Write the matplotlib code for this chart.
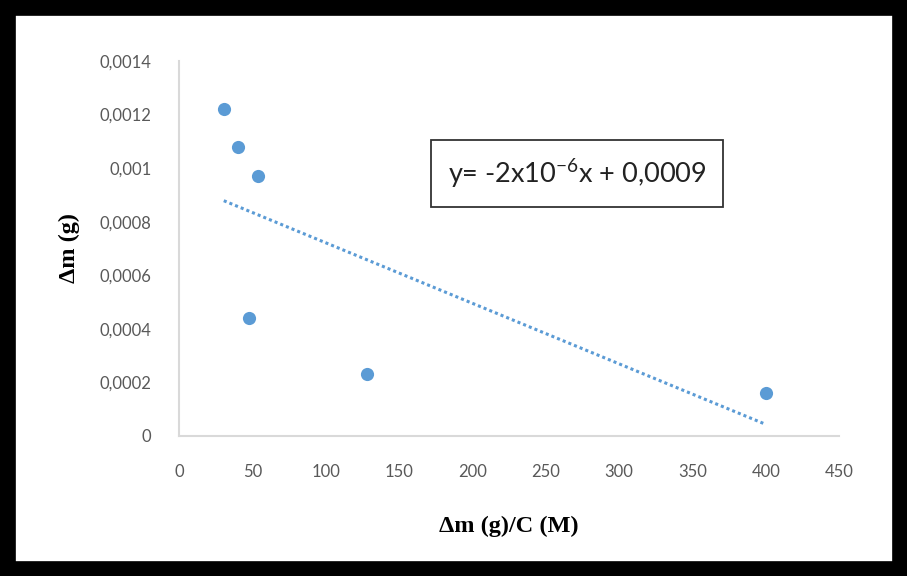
import numpy as np
import matplotlib
matplotlib.use("Agg")
import matplotlib.pyplot as plt
from matplotlib.patches import Rectangle

# data
ratio = [30.5, 40.5, 54, 48, 128, 400]           # dm (g)/C (M)
dmass = [0.00122, 0.00108, 0.00097, 0.00044, 0.00023, 0.00016]  # dm (g)
x_ticks = [0, 50, 100, 150, 200, 250, 300, 350, 400, 450]
y_ticks = [0, 0.0002, 0.0004, 0.0006, 0.0008, 0.001, 0.0012, 0.0014]
y_tick_labels = ["0", "0,0002", "0,0004", "0,0006", "0,0008", "0,001", "0,0012", "0,0014"]

blue = "#5b9bd5"
grey = "#595959"

plt.rcParams["mathtext.fontset"] = "custom"
plt.rcParams["mathtext.rm"] = "Lato"
plt.rcParams["mathtext.it"] = "Lato"

fig = plt.figure(figsize=(9.07, 5.76), dpi=100)
ax = fig.add_axes([0.1974, 0.2431, 0.7277, 0.651])

ax.scatter(ratio, dmass, s=90, color=blue, zorder=3, linewidths=0)

# linear trend line over the data range
slope, icpt = np.polyfit(ratio, dmass, 1)
xs = np.array([min(ratio), max(ratio)])
ax.plot(xs, slope * xs + icpt, color=blue, ls=(0, (1, 1)), lw=2.2)

ax.set_xlim(0, 450)
ax.set_ylim(0, 0.0014)
ax.set_xticks(x_ticks)
ax.set_yticks(y_ticks)
ax.set_yticklabels(y_tick_labels)

for s in ["top", "right"]:
    ax.spines[s].set_visible(False)
for s in ["left", "bottom"]:
    ax.spines[s].set_color("#d9d9d9")
    ax.spines[s].set_linewidth(1.5)
ax.tick_params(length=0, labelsize=12, labelcolor=grey)
ax.tick_params(axis="x", pad=20)
ax.tick_params(axis="y", pad=20)
for lb in ax.get_xticklabels() + ax.get_yticklabels():
    lb.set_family("Lato")

ax.set_xlabel("Δm (g)/C (M)", family="Liberation Serif", fontweight="bold",
              fontsize=17.5, labelpad=26)
ax.set_ylabel("Δm (g)", family="Liberation Serif", fontweight="bold",
              fontsize=17.5, labelpad=14)

# equation box
fig.text(0.636, 0.699, "y= -2x10$^{-6}$x + 0,0009", family="Lato", fontsize=19.5,
         ha="center", va="center", color="#222222",
         bbox=dict(boxstyle="square,pad=0.62", fc="white", ec="#333333", lw=1.3))

# thick black outer frame
fig.patches.append(Rectangle((0.008, 0.012), 0.984, 0.976, transform=fig.transFigure,
                             fill=False, ec="black", lw=12))

fig.savefig("out.png", dpi=100)
